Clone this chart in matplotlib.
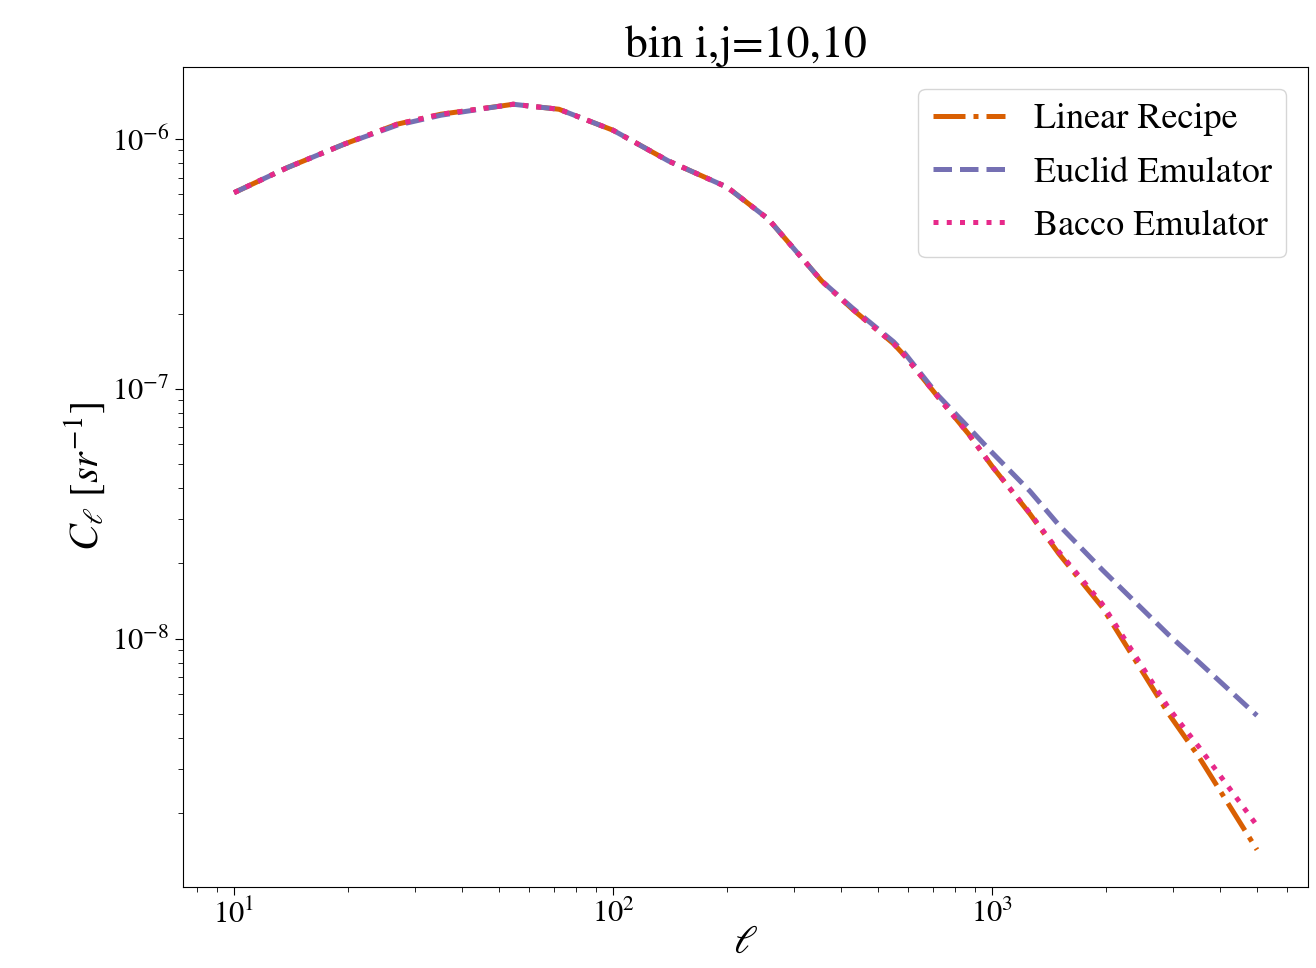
import numpy as np
import matplotlib
matplotlib.use("Agg")
import matplotlib.pyplot as plt

plt.rcParams['font.family'] = 'STIXGeneral'
plt.rcParams['mathtext.fontset'] = 'stix'

# multipoles and log10(C_ell)
ell = [10, 13.8, 19.5, 26.9, 35.1, 50.6, 54.5, 72, 100, 140, 200, 257, 355,
       427, 550, 590, 722, 867, 1000, 1259, 1500, 1955, 2924, 3519, 5000]

log_linear = [-6.215, -6.115, -6.021, -5.941, -5.901, -5.868, -5.861, -5.881,
              -5.965, -6.088, -6.193, -6.321, -6.568, -6.680, -6.820, -6.870,
              -7.035, -7.181, -7.310, -7.501, -7.660, -7.875, -8.301, -8.475,
              -8.845]

log_euclid = [-6.215, -6.115, -6.021, -5.945, -5.905, -5.868, -5.861, -5.881,
              -5.965, -6.088, -6.193, -6.321, -6.568, -6.675, -6.812, -6.860,
              -7.028, -7.155, -7.255, -7.410, -7.545, -7.725, -7.985, -8.095,
              -8.308]

log_bacco = [-6.215, -6.115, -6.021, -5.941, -5.901, -5.868, -5.861, -5.881,
             -5.965, -6.088, -6.193, -6.321, -6.568, -6.680, -6.820, -6.870,
             -7.035, -7.181, -7.310, -7.498, -7.652, -7.862, -8.278, -8.435,
             -8.748]

cl_linear = 10.0 ** np.array(log_linear)
cl_euclid = 10.0 ** np.array(log_euclid)
cl_bacco = 10.0 ** np.array(log_bacco)

fig = plt.figure(figsize=(13.16, 9.68), dpi=100)
ax = fig.add_axes([0.139, 0.0837, 0.855, 0.8471])

lw = 3.6
ax.plot(ell, cl_linear, color='#d95f02', ls='-.', lw=lw, label='Linear Recipe')
ax.plot(ell, cl_euclid, color='#7570b3', ls='--', lw=lw, label='Euclid Emulator')
ax.plot(ell, cl_bacco, color='#e7298a', ls=':', lw=lw, label='Bacco Emulator')

ax.set_xscale('log')
ax.set_yscale('log')

ax.set_title('bin i,j=10,10', fontsize=33)
ax.set_xlabel(r'$\ell$', fontsize=29, labelpad=-4)
ax.set_ylabel(r'$C_\ell\ \left[sr^{-1}\right]$', fontsize=29)
ax.tick_params(axis='both', which='major', labelsize=22, length=6)
ax.tick_params(axis='both', which='minor', length=3.5)

ax.legend(loc='upper right', fontsize=26, labelspacing=0.55,
          borderaxespad=0.6)

fig.savefig('out.png', dpi=100)
